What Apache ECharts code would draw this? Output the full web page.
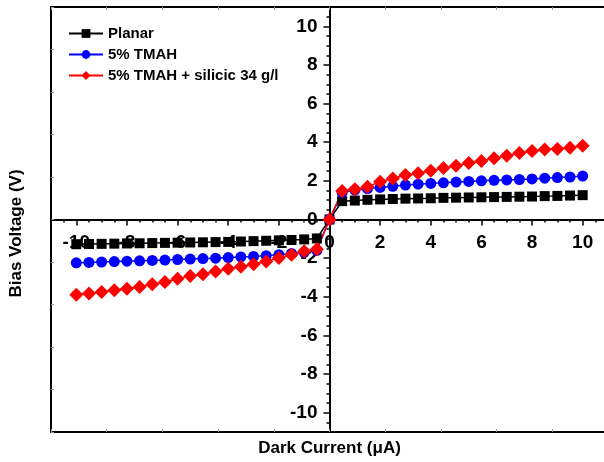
<!DOCTYPE html>
<html>
<head>
<meta charset="utf-8">
<script src="https://cdn.jsdelivr.net/npm/echarts@6/dist/echarts.min.js"></script>
<style>
  html, body { margin: 0; padding: 0; background: #fff; }
  #chart { width: 604px; height: 462px; }
</style>
</head>
<body>
<div id="chart"></div>
<script>
// dark current (µA), -10 .. 10 in steps of 0.5
const current = [
  -10, -9.5, -9, -8.5, -8, -7.5, -7, -6.5, -6, -5.5, -5, -4.5, -4, -3.5, -3, -2.5, -2, -1.5, -1, -0.5,
  0,
  0.5, 1, 1.5, 2, 2.5, 3, 3.5, 4, 4.5, 5, 5.5, 6, 6.5, 7, 7.5, 8, 8.5, 9, 9.5, 10
]

const planar = [
  -1.28, -1.27, -1.26, -1.25, -1.24, -1.23, -1.22, -1.21, -1.20, -1.19, -1.18, -1.17, -1.16, -1.14, -1.12, -1.10, -1.08, -1.06, -1.03, -0.98,
  0,
  0.95, 0.98, 1.02, 1.04, 1.06, 1.08, 1.09, 1.10, 1.12, 1.13, 1.14, 1.15, 1.16, 1.17, 1.18, 1.19, 1.21, 1.22, 1.24, 1.26
]

const tmah = [
  -2.24, -2.22, -2.20, -2.18, -2.16, -2.14, -2.12, -2.10, -2.07, -2.05, -2.02, -2.00, -1.97, -1.94, -1.91, -1.87, -1.82, -1.76, -1.70, -1.60,
  0,
  1.40, 1.52, 1.60, 1.66, 1.72, 1.78, 1.83, 1.87, 1.90, 1.94, 1.97, 2.00, 2.03, 2.05, 2.07, 2.10, 2.14, 2.17, 2.20, 2.25
]

const tmahSilicic = [
  -3.89, -3.83, -3.75, -3.66, -3.59, -3.49, -3.35, -3.23, -3.07, -2.93, -2.83, -2.69, -2.55, -2.44, -2.32, -2.17, -1.99, -1.82, -1.64, -1.54,
  0,
  1.48, 1.56, 1.70, 1.95, 2.12, 2.30, 2.40, 2.52, 2.66, 2.78, 2.92, 3.03, 3.17, 3.30, 3.44, 3.55, 3.62, 3.65, 3.72, 3.82
]

const seriesNames = ["Planar", "5% TMAH", "5% TMAH + silicic 34 g/l"]
const tickLabels = [-10, -8, -6, -4, -2, 0, 2, 4, 6, 8, 10]

const font = "Liberation Sans, Arial, sans-serif"

// plot area (frame); its right edge runs past the window like in the original
const gridLeft = 51
const gridTop = 7
const gridWidth = 557
const gridHeight = 425

function pairs(values) {
  return current.map((x, i) => [x, values[i]])
}

// main axis through zero: labels on evens, small ticks every 0.5
function mainAxis(position, offset, margin) {
  return {
    type: "value",
    position: position,
    offset: offset,
    min: -11,
    max: 11,
    interval: 0.5,
    axisLine: { onZero: false, lineStyle: { color: "#000", width: 2 } },
    axisTick: { length: 3, lineStyle: { color: "#000", width: 1.5 } },
    axisLabel: {
      customValues: tickLabels,
      hideOverlap: false,
      showMinLabel: true,
      showMaxLabel: true,
      color: "#000",
      fontFamily: font,
      fontWeight: "bold",
      fontSize: 19,
      margin: margin
    },
    splitLine: { show: false }
  }
}

// overlay on the main axis for the long ticks
function majorTicks(position, offset) {
  return {
    type: "value",
    position: position,
    offset: offset,
    min: -11,
    max: 11,
    axisLine: { show: false, onZero: false },
    axisTick: { customValues: tickLabels, length: 6, lineStyle: { color: "#000", width: 1.5 } },
    axisLabel: { show: false },
    splitLine: { show: false }
  }
}

// frame sides
function frameAxis(position) {
  return {
    type: "value",
    position: position,
    min: -11,
    max: 11,
    interval: 2.2,
    axisLine: { onZero: false, lineStyle: { color: "#000", width: 2 } },
    axisTick: { inside: true, length: 3, lineStyle: { color: "#999", width: 1 } },
    axisLabel: { show: false },
    splitLine: { show: false }
  }
}

// move the main axes from the frame edge to the zero line
const xOffset = -gridHeight / 2
const yOffset = -gridWidth / 2

const xBottom = frameAxis("bottom")
xBottom.name = "Dark Current (\u03bcA)"
xBottom.nameLocation = "middle"
xBottom.nameGap = 8
xBottom.nameTextStyle = { color: "#000", fontFamily: font, fontWeight: "bold", fontSize: 17, verticalAlign: "top" }

const yLeft = frameAxis("left")
yLeft.name = "Bias Voltage (V)"
yLeft.nameLocation = "middle"
yLeft.nameGap = 26
yLeft.nameTextStyle = { color: "#000", fontFamily: font, fontWeight: "bold", fontSize: 17, padding: [0, 28, 0, 0] }

const option = {
  animation: false,
  backgroundColor: "#fff",
  grid: {
    left: gridLeft,
    top: gridTop,
    width: gridWidth,
    height: gridHeight,
    containLabel: false,
    outerBoundsMode: "none"
  },
  legend: {
    data: seriesNames,
    orient: "vertical",
    left: 68,
    top: 26,
    padding: 0,
    itemWidth: 34,
    itemHeight: 11,
    itemGap: 6,
    textStyle: { color: "#000", fontFamily: font, fontWeight: "bold", fontSize: 15 }
  },
  xAxis: [
    mainAxis("bottom", xOffset, 14),
    majorTicks("bottom", xOffset),
    xBottom,
    frameAxis("top")
  ],
  yAxis: [
    mainAxis("left", yOffset, 12),
    majorTicks("left", yOffset),
    yLeft,
    frameAxis("right")
  ],
  series: [
    {
      name: seriesNames[0],
      type: "line",
      data: pairs(planar),
      symbol: "rect",
      symbolSize: 10,
      itemStyle: { color: "#000" },
      lineStyle: { color: "#000", width: 1.5 }
    },
    {
      name: seriesNames[1],
      type: "line",
      data: pairs(tmah),
      symbol: "circle",
      symbolSize: 11,
      itemStyle: { color: "#0000ff" },
      lineStyle: { color: "#0000ff", width: 1.5 }
    },
    {
      name: seriesNames[2],
      type: "line",
      data: pairs(tmahSilicic),
      symbol: "diamond",
      symbolSize: 14,
      itemStyle: { color: "#ff0000" },
      lineStyle: { color: "#ff0000", width: 1.5 }
    }
  ]
}

const chart = echarts.init(document.getElementById("chart"))
chart.setOption(option)
</script>
</body>
</html>
